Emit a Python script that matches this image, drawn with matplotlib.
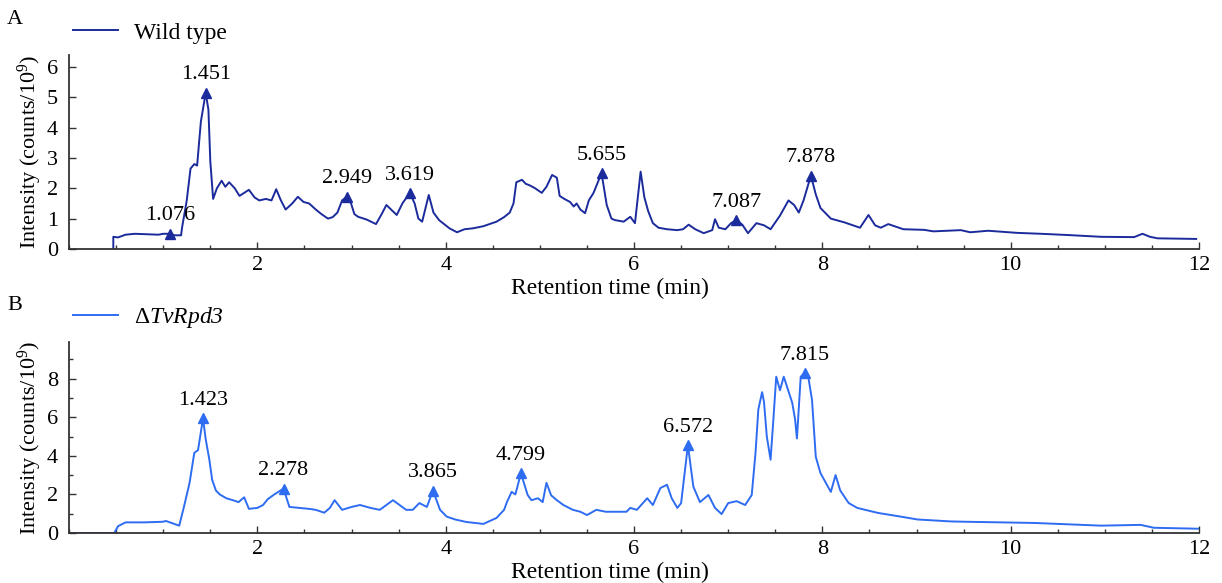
import numpy as np
import matplotlib
matplotlib.use('Agg')
import matplotlib.pyplot as plt
from matplotlib.ticker import MultipleLocator

plt.rcParams['font.family'] = 'Liberation Serif'
plt.rcParams['mathtext.fontset'] = 'custom'
plt.rcParams['mathtext.rm'] = 'Liberation Serif'
plt.rcParams['mathtext.it'] = 'Liberation Serif:italic'
# sf slot used for the italic strain name so the digit stays italic too
plt.rcParams['mathtext.sf'] = 'Liberation Serif:italic'

# wild type trace (min, counts/10^9)
wt_time = [0.47, 0.47, 0.52, 0.6, 0.7, 0.85, 0.95, 1.0, 1.076, 1.12, 1.19, 1.2,
           1.25, 1.29, 1.33, 1.36, 1.40, 1.451, 1.48, 1.50, 1.53, 1.57, 1.62, 1.66,
           1.70, 1.76, 1.81, 1.86, 1.91, 1.97, 2.02, 2.09, 2.15, 2.20, 2.25, 2.30,
           2.37, 2.43, 2.49, 2.55, 2.62, 2.68, 2.75, 2.80, 2.85, 2.90, 2.949, 2.99,
           3.03, 3.07, 3.16, 3.26, 3.32, 3.37, 3.42, 3.48, 3.54, 3.619, 3.67, 3.71,
           3.75, 3.82, 3.87, 3.93, 4.04, 4.12, 4.2, 4.29, 4.4, 4.54, 4.62, 4.68,
           4.72, 4.75, 4.81, 4.85, 4.89, 4.95, 5.02, 5.07, 5.13, 5.18, 5.21, 5.26,
           5.32, 5.36, 5.39, 5.43, 5.48, 5.52, 5.57, 5.655, 5.71, 5.76, 5.8, 5.89,
           5.96, 6.01, 6.07, 6.11, 6.15, 6.2, 6.26, 6.35, 6.46, 6.52, 6.58, 6.65,
           6.74, 6.83, 6.86, 6.9, 6.97, 7.03, 7.087, 7.15, 7.21, 7.3, 7.38, 7.45,
           7.55, 7.64, 7.7, 7.75, 7.80, 7.878, 7.93, 7.98, 8.09, 8.23, 8.4, 8.49,
           8.56, 8.62, 8.7, 8.86, 9.08, 9.18, 9.47, 9.57, 9.76, 10.07, 10.32, 10.6,
           10.96, 11.31, 11.4, 11.48, 11.56, 11.97]
wt_int = [0.0, 0.4, 0.38, 0.47, 0.5, 0.48, 0.47, 0.5, 0.5, 0.45, 0.45, 0.7,
          1.6, 2.65, 2.8, 2.75, 4.2, 5.15, 4.6, 2.9, 1.65, 2.0, 2.25, 2.05,
          2.2, 2.0, 1.75, 1.85, 1.95, 1.7, 1.6, 1.65, 1.6, 1.97, 1.6, 1.3,
          1.5, 1.72, 1.55, 1.5, 1.3, 1.15, 1.0, 1.05, 1.2, 1.6, 1.72, 1.55,
          1.15, 1.06, 0.97, 0.82, 1.15, 1.45, 1.3, 1.12, 1.5, 1.85, 1.5, 1.0,
          0.9, 1.78, 1.2, 0.95, 0.68, 0.55, 0.65, 0.68, 0.75, 0.9, 1.05, 1.2,
          1.5, 2.2, 2.28, 2.15, 2.1, 2.0, 1.85, 2.05, 2.44, 2.35, 1.75, 1.65,
          1.55, 1.4, 1.5, 1.3, 1.18, 1.6, 1.85, 2.5, 1.45, 1.0, 0.95, 0.9,
          1.06, 0.85, 2.55, 1.7, 1.25, 0.85, 0.7, 0.65, 0.62, 0.65, 0.8, 0.65,
          0.52, 0.62, 0.98, 0.7, 0.65, 0.85, 0.95, 0.8, 0.52, 0.85, 0.78, 0.65,
          1.1, 1.6, 1.45, 1.2, 1.6, 2.42, 1.8, 1.35, 1.0, 0.88, 0.7, 1.12,
          0.78, 0.7, 0.82, 0.65, 0.63, 0.58, 0.62, 0.55, 0.6, 0.53, 0.5, 0.46,
          0.4, 0.39, 0.5, 0.4, 0.35, 0.33]
wt_peaks = [1.076, 1.451, 2.949, 3.619, 5.655, 7.087, 7.878]
wt_peak_int = [0.5, 5.15, 1.72, 1.85, 2.5, 0.95, 2.42]

# delta TvRpd3 trace
mut_time = [0.0, 0.48, 0.52, 0.6, 0.8, 0.99, 1.03, 1.1, 1.17, 1.22, 1.28, 1.33,
            1.37, 1.423, 1.45, 1.49, 1.52, 1.56, 1.6, 1.67, 1.74, 1.8, 1.86, 1.91,
            2.0, 2.06, 2.11, 2.18, 2.278, 2.34, 2.45, 2.55, 2.62, 2.71, 2.77, 2.82,
            2.9, 3.0, 3.09, 3.2, 3.3, 3.44, 3.51, 3.58, 3.65, 3.72, 3.8, 3.865,
            3.94, 4.01, 4.1, 4.22, 4.4, 4.54, 4.62, 4.65, 4.7, 4.74, 4.799, 4.87,
            4.91, 4.98, 5.03, 5.07, 5.12, 5.18, 5.25, 5.35, 5.43, 5.5, 5.6, 5.7,
            5.78, 5.92, 5.96, 6.03, 6.14, 6.2, 6.28, 6.35, 6.4, 6.46, 6.5, 6.572,
            6.63, 6.7, 6.79, 6.86, 6.93, 7.0, 7.09, 7.18, 7.25, 7.29, 7.32, 7.36,
            7.38, 7.41, 7.45, 7.48, 7.51, 7.55, 7.59, 7.63, 7.68, 7.71, 7.73, 7.77,
            7.815, 7.85, 7.89, 7.93, 7.98, 8.09, 8.14, 8.19, 8.28, 8.37, 8.59, 8.83,
            9.01, 9.36, 9.54, 10.25, 10.96, 11.38, 11.52, 12.0]
mut_int = [0.0, 0.0, 0.35, 0.55, 0.55, 0.58, 0.62, 0.5, 0.38, 1.35, 2.6, 4.15,
           4.3, 5.95, 4.9, 3.8, 2.75, 2.2, 2.0, 1.8, 1.7, 1.6, 1.85, 1.25,
           1.3, 1.45, 1.75, 2.0, 2.3, 1.35, 1.3, 1.25, 1.2, 1.05, 1.3, 1.7,
           1.2, 1.35, 1.45, 1.3, 1.2, 1.7, 1.45, 1.2, 1.2, 1.55, 1.35, 2.2,
           1.2, 0.85, 0.7, 0.57, 0.47, 0.78, 1.2, 1.6, 2.13, 2.0, 3.1, 1.97,
           1.7, 1.8, 1.6, 2.6, 1.95, 1.7, 1.45, 1.2, 1.1, 0.93, 1.2, 1.1,
           1.1, 1.1, 1.3, 1.2, 1.8, 1.45, 2.33, 2.5, 1.8, 1.3, 1.55, 4.55,
           2.4, 1.6, 1.97, 1.3, 0.98, 1.55, 1.65, 1.45, 1.97, 4.15, 6.4, 7.3,
           6.8, 5.0, 3.8, 5.9, 8.1, 7.4, 8.1, 7.5, 6.75, 5.9, 4.9, 8.1,
           8.3, 8.1, 6.9, 3.95, 3.1, 2.13, 3.0, 2.2, 1.55, 1.3, 1.04, 0.85,
           0.7, 0.6, 0.58, 0.52, 0.38, 0.42, 0.27, 0.22]
mut_peaks = [1.423, 2.278, 3.865, 4.799, 6.572, 7.815]
mut_peak_int = [5.95, 2.3, 2.2, 3.1, 4.55, 8.3]

wt_color = '#1c2b9c'
mut_color = '#2e6cf2'

fig = plt.figure(figsize=(12.22, 5.83), dpi=100)
ax1 = fig.add_axes([0.0565, 0.573, 0.9247, 0.3328])
ax2 = fig.add_axes([0.0565, 0.0858, 0.9247, 0.3276])

panels = [
    (ax1, wt_time, wt_int, wt_peaks, wt_peak_int, wt_color, 'Wild type', 6.4, 1, 'A'),
    (ax2, mut_time, mut_int, mut_peaks, mut_peak_int, mut_color,
     r'$\Delta\mathsf{TvRpd3}$', 9.9, 2, 'B'),
]

for ax, t, y, pk, pk_y, col, lab, ytop, ystep, letter in panels:
    ax.plot(t, y, color=col, lw=1.4, label=lab)
    ax.plot(pk, pk_y, '^', color=col, ms=7, mec=col)
    for p, py in zip(pk, pk_y):
        ax.annotate('{:.3f}'.format(p), (p, py), xytext=(0, 6), textcoords='offset points',
                    ha='center', va='bottom', fontsize=16)
    ax.set_xlim(0, 12)
    ax.set_ylim(0, ytop)
    ax.xaxis.set_major_locator(MultipleLocator(2))
    ax.xaxis.set_minor_locator(MultipleLocator(0.5))
    ax.yaxis.set_major_locator(MultipleLocator(ystep))
    if ystep == 2:
        ax.yaxis.set_minor_locator(MultipleLocator(1))
    ax.set_xticks([2, 4, 6, 8, 10, 12])
    ax.tick_params(which='both', direction='in', labelsize=16, color='#333333')
    ax.tick_params(which='major', length=5, width=1)
    ax.tick_params(which='minor', length=3, width=1)
    ax.tick_params(axis='y', pad=8)
    ax.tick_params(axis='x', pad=5)
    for s in ['top', 'right']:
        ax.spines[s].set_visible(False)
    for s in ['left', 'bottom']:
        ax.spines[s].set_color('#333333')
        ax.spines[s].set_linewidth(1.3)
    ax.set_xlabel('Retention time (min)', fontsize=17)
    ax.xaxis.set_label_coords(0.479, -0.15)
    ax.set_ylabel('Intensity (counts/10$^{9}$)', fontsize=16)
    ax.yaxis.set_label_coords(-0.022, 0.5)
    leg_y = 1.113 if letter == 'A' else 1.126
    ax.legend(loc='center left', bbox_to_anchor=(0.0035, leg_y), frameon=False,
              fontsize=17, handlelength=1.9, handletextpad=0.7, borderpad=0,
              borderaxespad=0)

fig.text(15 / 1222, 1 - 20 / 583, 'A', ha='center', va='center', fontsize=16)
fig.text(15 / 1222, 1 - 305 / 583, 'B', ha='center', va='center', fontsize=16)

plt.savefig('out.png', dpi=100)
